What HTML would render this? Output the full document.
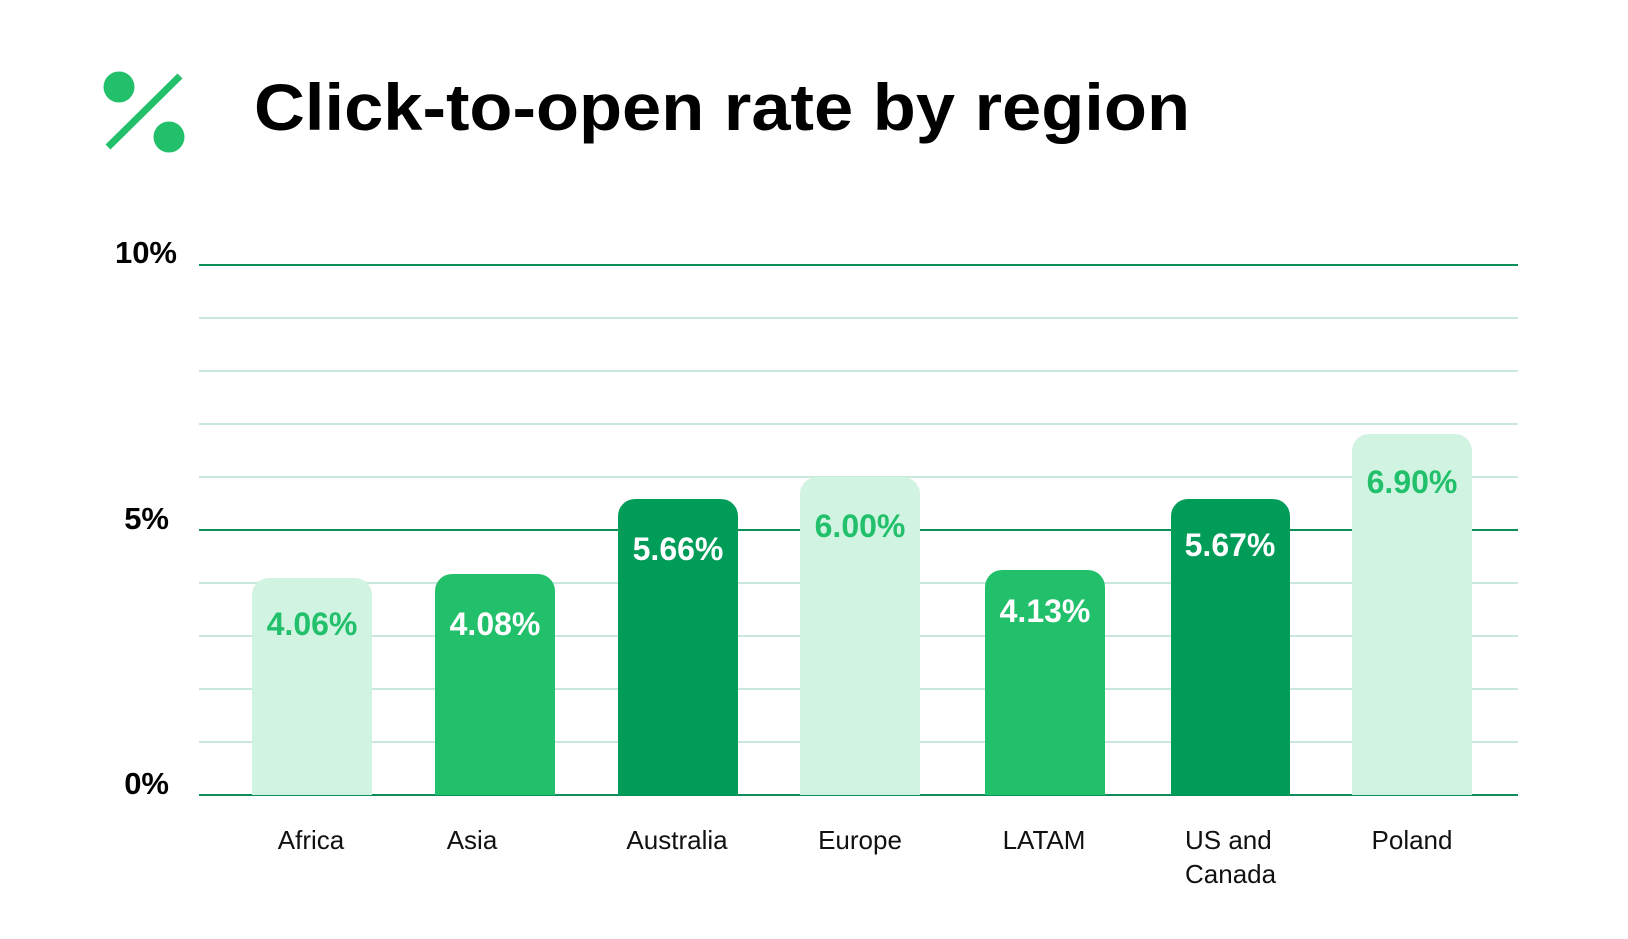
<!DOCTYPE html>
<html><head><meta charset="utf-8"><style>
html,body{margin:0;padding:0;background:#fff;}
svg{display:block}
text{font-family:"Liberation Sans",sans-serif;}
</style></head><body>
<svg width="1628" height="939" viewBox="0 0 1628 939" xmlns="http://www.w3.org/2000/svg">
<rect width="1628" height="939" fill="#fff"/>
<circle cx="119" cy="87" r="15.5" fill="#22c06b"/>
<circle cx="169" cy="137" r="15.5" fill="#22c06b"/>
<line x1="108" y1="147" x2="180" y2="76" stroke="#22c06b" stroke-width="7"/>
<text x="254" y="130" font-size="66" font-weight="bold" fill="#000" textLength="936" lengthAdjust="spacingAndGlyphs">Click-to-open rate by region</text>
<g stroke="#c8e8dd" stroke-width="2">
<line x1="199" x2="1518" y1="318" y2="318"/>
<line x1="199" x2="1518" y1="371" y2="371"/>
<line x1="199" x2="1518" y1="424" y2="424"/>
<line x1="199" x2="1518" y1="477" y2="477"/>
<line x1="199" x2="1518" y1="583" y2="583"/>
<line x1="199" x2="1518" y1="636" y2="636"/>
<line x1="199" x2="1518" y1="689" y2="689"/>
<line x1="199" x2="1518" y1="742" y2="742"/>
</g>
<g stroke="#0b8f58" stroke-width="2">
<line x1="199" x2="1518" y1="265" y2="265"/>
<line x1="199" x2="1518" y1="530" y2="530"/>
<line x1="199" x2="1518" y1="795" y2="795"/>
</g>
<g font-size="31" font-weight="bold" fill="#000" text-anchor="end">
<text x="177" y="263">10%</text>
<text x="169" y="529">5%</text>
<text x="169" y="794">0%</text>
</g>
<g>
<path d="M252 795 V595 a17 17 0 0 1 17 -17 H355 a17 17 0 0 1 17 17 V795Z" fill="#d0f3e2"/>
<path d="M435 795 V591 a17 17 0 0 1 17 -17 H538 a17 17 0 0 1 17 17 V795Z" fill="#22c06b"/>
<path d="M618 795 V516 a17 17 0 0 1 17 -17 H721 a17 17 0 0 1 17 17 V795Z" fill="#019c58"/>
<path d="M800 795 V494 a17 17 0 0 1 17 -17 H903 a17 17 0 0 1 17 17 V795Z" fill="#d0f3e2"/>
<path d="M985 795 V587 a17 17 0 0 1 17 -17 H1088 a17 17 0 0 1 17 17 V795Z" fill="#22c06b"/>
<path d="M1171 795 V516 a17 17 0 0 1 17 -17 H1273 a17 17 0 0 1 17 17 V795Z" fill="#019c58"/>
<path d="M1352 795 V451 a17 17 0 0 1 17 -17 H1455 a17 17 0 0 1 17 17 V795Z" fill="#d0f3e2"/>
</g>
<g font-size="32" font-weight="bold" text-anchor="middle">
<text x="312" y="635" fill="#22c06b">4.06%</text>
<text x="495" y="635" fill="#fff">4.08%</text>
<text x="678" y="560" fill="#fff">5.66%</text>
<text x="860" y="537" fill="#22c06b">6.00%</text>
<text x="1045" y="622" fill="#fff">4.13%</text>
<text x="1230" y="556" fill="#fff">5.67%</text>
<text x="1412" y="493" fill="#22c06b">6.90%</text>
</g>
<g font-size="26" fill="#111" text-anchor="middle">
<text x="311" y="849">Africa</text>
<text x="472" y="849">Asia</text>
<text x="677" y="849">Australia</text>
<text x="860" y="849">Europe</text>
<text x="1044" y="849">LATAM</text>
<text x="1412" y="849">Poland</text>
</g>
<g font-size="26" fill="#111">
<text x="1185" y="849">US and</text>
<text x="1185" y="883">Canada</text>
</g>
</svg>
</body></html>
